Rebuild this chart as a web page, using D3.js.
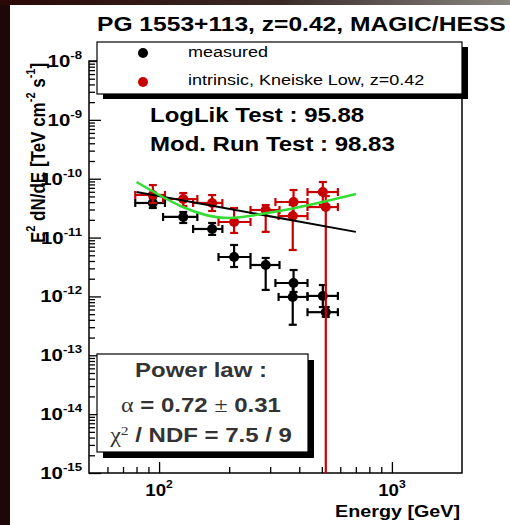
<!DOCTYPE html>
<html>
<head>
<meta charset="utf-8">
<script src="https://cdn.jsdelivr.net/npm/d3@7"></script>
<style>
  body { margin: 0; background: #1c0606; }
  svg { display: block; }
  text { font-family: "Liberation Sans", Arial, sans-serif; }
</style>
</head>
<body>
<div id="chart"></div>
<script>
// energy bins [GeV]
const energy     = [94, 127, 169, 210, 287, 378, 375, 505, 520]
const energyLow  = [79, 104, 140, 180, 247, 316, 326, 434, 434]
const energyHigh = [106, 146, 187, 247, 329, 434, 434, 586, 586]

// measured E^2 dN/dE [TeV cm^-2 s^-1]
const measured     = [3.87e-11, 2.24e-11, 1.40e-11, 4.68e-12, 3.42e-12, 1.69e-12, 9.8e-13, 1.02e-12, 5.4e-13]
const measuredLow  = [3.18e-11, 1.77e-11, 1.11e-11, 3.16e-12, 1.29e-12, 1.19e-12, 3.3e-13, 6.6e-13, 4.5e-13]
const measuredHigh = [4.70e-11, 2.72e-11, 1.77e-11, 7.48e-12, 4.5e-12, 2.81e-12, 1.69e-12, 1.56e-12, 6.6e-13]

// intrinsic (EBL corrected, Kneiske Low)
const intrinsic     = [5.3e-11, 4.52e-11, 3.87e-11, 1.84e-11, 2.94e-11, 4.02e-11, 2.32e-11, 5.94e-11, 3.30e-11]
const intrinsicLow  = [3.87e-11, 3.44e-11, 2.83e-11, 1.20e-11, 1.25e-11, 2.42e-11, 6.15e-12, 3.57e-11, 1e-16]
const intrinsicHigh = [7.8e-11, 5.71e-11, 5.28e-11, 3.18e-11, 3.57e-11, 6.43e-11, 3.57e-11, 8.79e-11, 5.08e-11]

// power law fit (black) and model curve (green)
const fitEnergy = [80, 700]
const fitFlux   = [5.94e-11, 1.25e-11]
const modelEnergy = [80, 198, 310, 700]
const modelFlux   = [8.8e-11, 2.15e-11, 2.72e-11, 5.5e-11]

const yMajor = [-15, -14, -13, -12, -11, -10, -9, -8]
const xMajor = [2, 3]

const W = 510, H = 525
const margin = { top: 61, left: 89 }
    , width = 373
    , height = 412
const sx = 1.2   // glyphs in the picture are a bit wide
const red = "#c80000"

const svg = d3.select("#chart").append("svg")
    .attr("width", W)
    .attr("height", H)

// backdrop
const grad = svg.append("defs").append("linearGradient").attr("id", "topgrad")
grad.append("stop").attr("offset", "0%").attr("stop-color", "#2a0806")
grad.append("stop").attr("offset", "55%").attr("stop-color", "#3a2a26")
grad.append("stop").attr("offset", "100%").attr("stop-color", "#8a8682")
svg.append("rect").attr("width", W).attr("height", H).attr("fill", "#1e0707")
svg.append("rect").attr("width", W).attr("height", 5).attr("fill", "url(#topgrad)")
svg.append("rect").attr("x", 10).attr("y", 5).attr("width", W - 10).attr("height", H - 5).attr("fill", "#fff")

svg.select("defs").append("clipPath").attr("id", "plotclip")
    .append("rect").attr("x", margin.left).attr("y", margin.top).attr("width", width).attr("height", height)

const x = d3.scaleLog().domain([50, 2000]).range([margin.left, margin.left + width])
const y = d3.scaleLog().domain([1e-15, 1e-8]).range([margin.top + height, margin.top])

function txt(px, py, size, anchor, weight, stretch) {
    return svg.append("text")
        .attr("transform", "translate(" + px + "," + py + ") scale(" + (stretch || sx) + ",1)")
        .attr("text-anchor", anchor)
        .attr("font-size", size)
        .attr("font-weight", weight)
        .attr("fill", "#000")
}

// minor ticks
let yMinor = []
yMajor.slice(0, -1).forEach(p => { for (let k = 2; k < 10; k++) yMinor.push(k * Math.pow(10, p)) })
let xMinor = [60, 70, 80, 90, 200, 300, 400, 500, 600, 700, 800, 900]

const axisStyle = g => {
    g.select(".domain").remove()
    g.selectAll("line").attr("stroke", "#000").attr("stroke-width", 1.3)
    g.selectAll("text").remove()
}

svg.append("g").attr("transform", "translate(" + margin.left + ",0)")
    .call(d3.axisLeft(y).tickValues(yMinor).tickSize(-6).tickSizeOuter(0)).call(axisStyle)
svg.append("g").attr("transform", "translate(" + margin.left + ",0)")
    .call(d3.axisLeft(y).tickValues(yMajor.map(p => Math.pow(10, p))).tickSize(-12).tickSizeOuter(0)).call(axisStyle)
svg.append("g").attr("transform", "translate(0," + (margin.top + height) + ")")
    .call(d3.axisBottom(x).tickValues(xMinor).tickSize(-6).tickSizeOuter(0)).call(axisStyle)
svg.append("g").attr("transform", "translate(0," + (margin.top + height) + ")")
    .call(d3.axisBottom(x).tickValues(xMajor.map(p => Math.pow(10, p))).tickSize(-11).tickSizeOuter(0)).call(axisStyle)

// frame
svg.append("rect")
    .attr("x", margin.left).attr("y", margin.top)
    .attr("width", width).attr("height", height)
    .attr("fill", "none").attr("stroke", "#000").attr("stroke-width", 1.5)

// tick labels
yMajor.forEach(p => {
    const t = txt(82, y(Math.pow(10, p)) + 6, 17, "end", "bold")
    t.append("tspan").text("10")
    t.append("tspan").attr("font-size", 11).attr("dy", -8).text(p)
})
xMajor.forEach(p => {
    const t = txt(x(Math.pow(10, p)), 496, 17, "middle", "bold", 1.1)
    t.append("tspan").text("10")
    t.append("tspan").attr("font-size", 11).attr("dy", -8).text(p)
})

// axis titles
txt(460, 517, 17, "end", "bold", 1.16).text("Energy [GeV]")
const yl = svg.append("text")
    .attr("transform", "translate(45,153) rotate(-90) scale(1,1.2)")
    .attr("text-anchor", "middle")
    .attr("font-size", 17)
    .attr("font-weight", "bold")
yl.append("tspan").text("E")
yl.append("tspan").attr("font-size", 11).attr("dy", -8).text("2")
yl.append("tspan").attr("dy", 8).text(" dN/dE [TeV cm")
yl.append("tspan").attr("font-size", 11).attr("dy", -8).text("-2")
yl.append("tspan").attr("dy", 8).text(" s")
yl.append("tspan").attr("font-size", 11).attr("dy", -8).text("-1")
yl.append("tspan").attr("dy", 8).text("]")

// data
const plot = svg.append("g").attr("clip-path", "url(#plotclip)")

function drawSeries(vals, lo, hi, color) {
    const g = plot.append("g").attr("stroke", color).attr("stroke-width", 2.2)
    const cap = 4
    energy.forEach((e, i) => {
        const cx = x(e), cy = y(vals[i])
        const x0 = x(energyLow[i]), x1 = x(energyHigh[i])
        const y0 = y(lo[i]), y1 = y(hi[i])
        g.append("line").attr("x1", x0).attr("x2", x1).attr("y1", cy).attr("y2", cy)
        g.append("line").attr("x1", cx).attr("x2", cx).attr("y1", y0).attr("y2", y1)
        g.append("line").attr("x1", x0).attr("x2", x0).attr("y1", cy - cap).attr("y2", cy + cap)
        g.append("line").attr("x1", x1).attr("x2", x1).attr("y1", cy - cap).attr("y2", cy + cap)
        g.append("line").attr("x1", cx - cap).attr("x2", cx + cap).attr("y1", y0).attr("y2", y0)
        g.append("line").attr("x1", cx - cap).attr("x2", cx + cap).attr("y1", y1).attr("y2", y1)
    })
    plot.append("g").selectAll("circle")
        .data(vals)
        .enter()
        .append("circle")
        .attr("cx", (d, i) => x(energy[i]))
        .attr("cy", d => y(d))
        .attr("r", 5)
        .attr("fill", color)
}

drawSeries(measured, measuredLow, measuredHigh, "#000")
drawSeries(intrinsic, intrinsicLow, intrinsicHigh, red)

plot.append("path")
    .datum(fitEnergy)
    .attr("fill", "none")
    .attr("stroke", "#000")
    .attr("stroke-width", 2)
    .attr("d", d3.line().x(d => x(d)).y((d, i) => y(fitFlux[i])))

plot.append("path")
    .datum(modelEnergy)
    .attr("fill", "none")
    .attr("stroke", "#33dd33")
    .attr("stroke-width", 2.5)
    .attr("d", d3.line().x(d => x(d)).y((d, i) => y(modelFlux[i])).curve(d3.curveMonotoneX))

// legend
svg.append("rect").attr("x", 103).attr("y", 47).attr("width", 365).attr("height", 52).attr("fill", "#000")
svg.append("rect").attr("x", 97).attr("y", 42).attr("width", 365).attr("height", 52)
    .attr("fill", "#fff").attr("stroke", "#000").attr("stroke-width", 1.2)
svg.append("circle").attr("cx", 143).attr("cy", 53).attr("r", 5).attr("fill", "#000")
svg.append("circle").attr("cx", 143).attr("cy", 82).attr("r", 5).attr("fill", red)
txt(188, 57, 15, "start", "normal").text("measured")
txt(188, 85, 15, "start", "normal").text("intrinsic, Kneiske Low, z=0.42")

// test scores
txt(150, 122, 20, "start", "bold").text("LogLik Test : 95.88")
txt(150, 151, 20, "start", "bold").text("Mod. Run Test : 98.83")

// fit box
svg.append("rect").attr("x", 103).attr("y", 360).attr("width", 211).attr("height", 98).attr("fill", "#000")
svg.append("rect").attr("x", 97).attr("y", 354).attr("width", 211).attr("height", 98)
    .attr("fill", "#fff").attr("stroke", "#000").attr("stroke-width", 1.2)
txt(201, 377, 20, "middle", "bold").attr("fill", "#333").text("Power law :")
const a = txt(201, 412, 20, "middle", "bold").attr("fill", "#333")
a.append("tspan").attr("font-family", "Liberation Serif, serif").attr("font-weight", "normal").text("α")
a.append("tspan").text(" = 0.72 ")
a.append("tspan").attr("font-family", "Liberation Serif, serif").attr("font-weight", "normal").text("±")
a.append("tspan").text(" 0.31")
const c = txt(201, 442, 20, "middle", "bold").attr("fill", "#333")
c.append("tspan").attr("font-family", "Liberation Serif, serif").attr("font-weight", "normal").text("χ")
c.append("tspan").attr("font-family", "Liberation Serif, serif").attr("font-weight", "normal")
    .attr("font-size", 13).attr("dy", -7).text("2")
c.append("tspan").attr("dy", 7).text(" / NDF = 7.5 / 9")

// title
txt(97, 31, 20, "start", "bold", 1.23).text("PG 1553+113, z=0.42, MAGIC/HESS")
</script>
</body>
</html>
